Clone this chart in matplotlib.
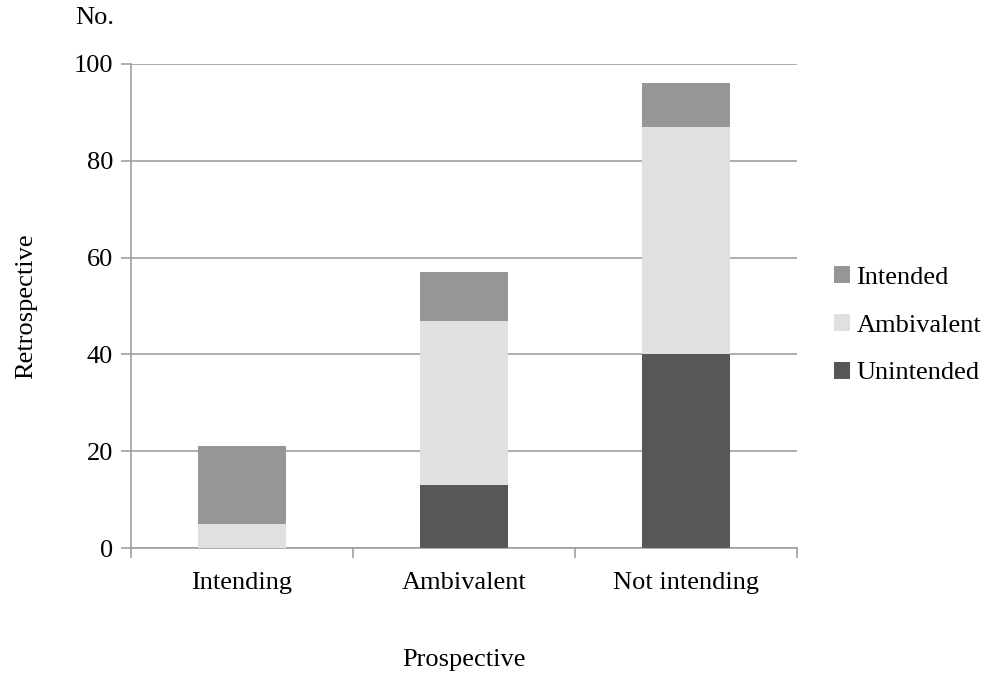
import matplotlib
matplotlib.use("Agg")
import matplotlib.pyplot as plt
import numpy as np

# data
categories = ["Intending", "Ambivalent", "Not intending"]
unintended = [0, 13, 40]
ambivalent = [5, 34, 47]
intended = [16, 10, 9]

plt.rcParams["font.family"] = ["Liberation Serif", "DejaVu Serif"]
plt.rcParams["font.size"] = 19

fig = plt.figure(figsize=(9.95, 6.77), dpi=100)
ax = fig.add_axes([0.1317, 0.1905, 0.6693, 0.715])

x = np.arange(len(categories))
b1 = np.array(unintended)
b2 = b1 + np.array(ambivalent)

ax.bar(x, unintended, width=0.4, color="#575757", label="Unintended", zorder=3)
ax.bar(x, ambivalent, width=0.4, bottom=b1, color="#e0e0e0", label="Ambivalent", zorder=3)
ax.bar(x, intended, width=0.4, bottom=b2, color="#969696", label="Intended", zorder=3)

ax.set_xlim(-0.5, 2.5)
ax.set_ylim(0, 100)
ax.set_yticks([0, 20, 40, 60, 80, 100])
ax.set_xticks(x)
ax.set_xticklabels(categories)
ax.set_xticks([-0.5, 0.5, 1.5, 2.5], minor=True)
ax.tick_params(axis="x", which="major", length=0, pad=17)
ax.tick_params(axis="x", which="minor", length=7, color="#a0a0a0", width=1.2)
ax.tick_params(axis="y", length=7, color="#a0a0a0", width=1.2, pad=6)

ax.grid(axis="y", color="#a0a0a0", linewidth=1.2, zorder=0)
for s in ["top", "right"]:
    ax.spines[s].set_visible(False)
for s in ["left", "bottom"]:
    ax.spines[s].set_color("#a0a0a0")
    ax.spines[s].set_linewidth(1.2)

ax.set_xlabel("Prospective", labelpad=40)
ax.set_ylabel("Retrospective", labelpad=26)
fig.text(0.095, 0.99, "No.", ha="center", va="top")

h, l = ax.get_legend_handles_labels()
ax.legend(h[::-1], l[::-1], loc="center left", bbox_to_anchor=(1.02, 0.46),
          frameon=False, handlelength=0.6, handleheight=0.6,
          handletextpad=0.25, labelspacing=0.95)

fig.savefig("out.png", dpi=100)
